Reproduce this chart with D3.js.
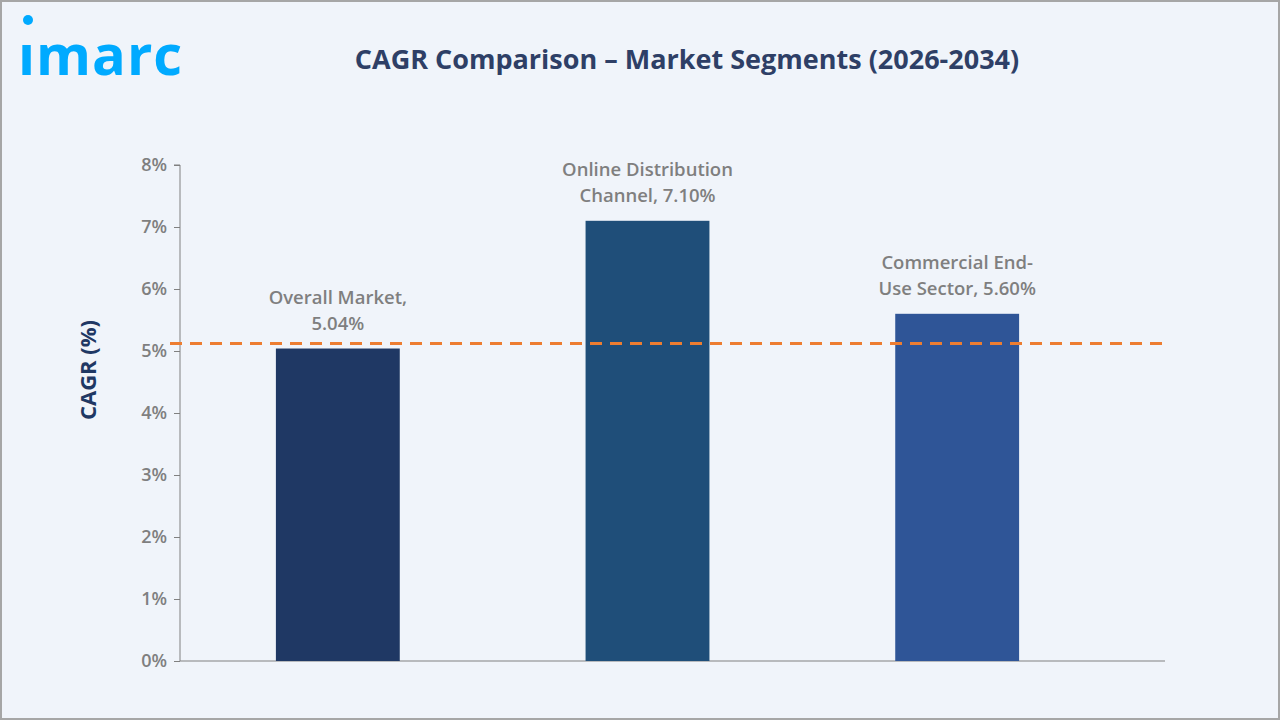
<!DOCTYPE html>
<html>
<head>
<meta charset="utf-8">
<script src="https://cdn.jsdelivr.net/npm/d3@7"></script>
<style>
  body { margin: 0; background: #fff; }
  text { font-family: "Open Sans", sans-serif; }
</style>
</head>
<body>
<script>
// chart values
var categories = ['Overall Market', 'Online Distribution Channel', 'Commercial End-Use Sector'];
var labelLines = [['Overall Market,', '5.04%'], ['Online Distribution', 'Channel, 7.10%'], ['Commercial End-', 'Use Sector, 5.60%']];
var values = [5.04, 7.10, 5.60];
var colors = ['#1f3864', '#1f4e79', '#2f5597'];
var refValue = 5.12;
var yTicks = [0, 1, 2, 3, 4, 5, 6, 7, 8];

var W = 1280, H = 720;
var svg = d3.select('body').append('svg').attr('width', W).attr('height', H);

svg.append('rect').attr('x', 1).attr('y', 1).attr('width', W - 2).attr('height', H - 2)
  .attr('fill', '#f0f4fa').attr('stroke', '#a6a6a6').attr('stroke-width', 2);

// logo
svg.append('circle').attr('cx', 28).attr('cy', 20).attr('r', 5).attr('fill', '#00aaff');
svg.append('text').attr('x', 18).attr('y', 75).attr('font-size', 56).attr('font-weight', 700)
  .attr('fill', '#00aaff').attr('letter-spacing', 1).text('ımarc');

svg.append('text').attr('x', 687).attr('y', 69).attr('text-anchor', 'middle')
  .attr('font-size', 27).attr('font-weight', 700).attr('fill', '#2e3f66')
  .text('CAGR Comparison – Market Segments (2026-2034)');

var y = d3.scaleLinear().domain([0, 8]).range([661, 165]);
var x = d3.scaleBand().domain(categories).range([183, 1112]).paddingInner(0.6).paddingOuter(0.3);

// y axis
var yAxis = svg.append('g').attr('transform', 'translate(180,0)')
  .call(d3.axisLeft(y).tickValues(yTicks).tickSize(6).tickFormat(function (d) { return d + '%'; }));
yAxis.selectAll('path, line').attr('stroke', '#808080');
yAxis.selectAll('text').attr('font-size', 18).attr('font-weight', 600).attr('fill', '#7f7f7f')
  .attr('font-family', '"Open Sans", sans-serif').attr('dx', -4);
yAxis.select('.domain').attr('d', 'M-6,' + y(8) + 'H0V' + y(0));

svg.append('line').attr('x1', 180).attr('x2', 1165).attr('y1', y(0)).attr('y2', y(0)).attr('stroke', '#808080');

svg.append('text').attr('transform', 'translate(96,370) rotate(-90)')
  .attr('text-anchor', 'middle').attr('font-size', 22).attr('font-weight', 700)
  .attr('fill', '#1f3864').text('CAGR (%)');

// bars
svg.selectAll('.bar').data(values).enter().append('rect')
  .attr('x', function (d, i) { return x(categories[i]); })
  .attr('width', x.bandwidth())
  .attr('y', function (d) { return y(d); })
  .attr('height', function (d) { return y(0) - y(d); })
  .attr('fill', function (d, i) { return colors[i]; });

// labels
values.forEach(function (v, i) {
  var t = svg.append('text').attr('text-anchor', 'middle').attr('font-size', 18.5).attr('font-weight', 600)
    .attr('fill', '#7f7f7f');
  labelLines[i].forEach(function (line, j) {
    t.append('tspan').attr('x', x(categories[i]) + x.bandwidth() / 2)
      .attr('y', y(v) - 45 + j * 26).text(line);
  });
});

// reference line
svg.append('line').attr('x1', 170).attr('x2', 1165).attr('y1', y(refValue)).attr('y2', y(refValue))
  .attr('stroke', '#ed7d31').attr('stroke-width', 3).attr('stroke-dasharray', '12,8');
</script>
</body>
</html>
